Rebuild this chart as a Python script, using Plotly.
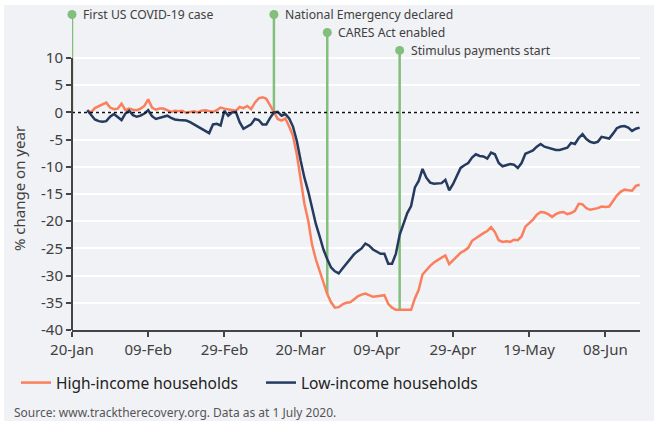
import plotly.graph_objects as go
import pandas as pd

# ---------------- data ----------------
start_date = "2020-01-24"
high_income = [
    0.4, 0.0, 0.8, 1.1, 1.5, 1.8, 0.9, 0.6, 0.7, 1.6,           # d4-13
    0.4, 0.7, 0.5, 0.4, 0.7, 1.2, 2.4, 0.9, 0.5, 0.7,           # d14-23
    0.7, 0.4, 0.1, 0.3, 0.2, 0.3, -0.1, 0.1, 0.2, 0.0,          # d24-33
    0.3, 0.4, 0.2, 0.1, 0.4, 0.9, 0.7, 0.6, 0.4, 0.3,           # d34-43
    1.0, 0.8, 1.2, 0.6, 1.8, 2.6, 2.8, 2.5, 1.3, 0.0,           # d44-53
    -1.2, -1.5, -1.1, -2.6, -4.3, -7.7, -12.5, -16.8, -19.9, -24.3,  # d54-63
    -27.0, -29.0, -31.2, -33.4, -34.9, -35.9, -35.8, -35.3, -35.0, -34.9,  # d64-73
    -34.4, -33.8, -33.5, -33.3, -33.6, -33.9, -33.8, -33.7, -33.6, -35.2,  # d74-83
    -35.9, -36.3, -36.3, -36.3, -36.3, -36.3, -34.2, -32.6, -29.8, -28.9,  # d84-93
    -28.2, -27.6, -27.1, -26.7, -26.3, -27.9, -27.2, -26.4, -25.8, -25.4,  # d94-103
    -24.9, -23.6, -23.1, -22.7, -22.2, -21.8, -21.1, -22.0, -23.5, -23.8,  # d104-113
    -23.7, -23.8, -23.4, -23.5, -22.8, -21.0, -20.4, -19.7, -18.8, -18.3,  # d114-123
    -18.4, -18.7, -19.2, -18.7, -18.4, -18.3, -18.7, -18.5, -18.1, -16.8,  # d124-133
    -16.9, -17.6, -17.9, -17.8, -17.6, -17.3, -17.4, -17.3, -16.3, -15.3,  # d134-143
    -14.6, -14.2, -14.3, -14.4, -13.5, -13.3,                              # d144-149
]
low_income = [
    0.4, -0.5, -1.3, -1.6, -1.7, -1.6, -0.8, -0.3, -0.8, -1.4,  # d4-13
    -0.2, 0.3, -0.5, -0.8, -0.6, -0.2, 0.4, -0.7, -1.2, -1.0,   # d14-23
    -0.7, -0.6, -1.0, -1.3, -1.4, -1.4, -1.5, -1.8, -2.2, -2.7, # d24-33
    -3.1, -3.5, -3.8, -2.2, -2.1, -2.4, 0.3, -0.6, 0.0, 0.1,    # d34-43
    -1.8, -3.0, -2.6, -2.2, -1.2, -1.4, -2.2, -2.2, -1.0, 0.0,  # d44-53
    0.1, -0.6, -0.3, -1.1, -2.6, -5.2, -8.8, -12.0, -14.5, -17.8,  # d54-63
    -20.5, -22.8, -25.2, -27.0, -28.5, -29.2, -29.6, -28.7, -27.8, -26.9,  # d64-73
    -26.1, -25.5, -25.0, -24.1, -24.5, -25.2, -25.6, -26.0, -26.0, -27.8,  # d74-83
    -27.8, -26.0, -22.5, -20.6, -18.5, -17.2, -13.8, -12.6, -10.4, -12.0,  # d84-93
    -12.9, -13.1, -13.0, -13.0, -12.4, -14.3, -13.2, -11.7, -10.2, -9.7,   # d94-103
    -9.3, -8.3, -7.7, -8.0, -8.1, -8.5, -7.4, -7.7, -9.3, -9.9,            # d104-113
    -9.7, -9.5, -9.6, -10.2, -9.3, -7.6, -7.3, -7.0, -6.3, -5.8,           # d114-123
    -6.3, -6.5, -6.7, -6.9, -6.9, -6.7, -6.5, -5.6, -5.8, -4.7,            # d124-133
    -4.0, -4.9, -5.4, -5.6, -5.4, -4.5, -4.7, -4.8, -3.9, -2.9,            # d134-143
    -2.6, -2.5, -2.8, -3.4, -3.0, -2.8,                                    # d144-149
]
dates = pd.date_range(start_date, periods=len(high_income), freq="D")

event_dates = ["2020-01-20", "2020-03-13", "2020-03-27", "2020-04-15"]
event_labels = ["First US COVID-19 case", "National Emergency declared",
                "CARES Act enabled", "Stimulus payments start"]
event_label_level = [18.0, 18.0, 14.7, 11.4]
event_base_level = [0.0, 0.0, -33.4, -36.3]

y_tick_vals = [10, 5, 0, -5, -10, -15, -20, -25, -30, -35, -40]
y_tick_text = ["10", "5", "0", "-5", "-10", "-15", "-20", "-25", "-30", "-35", "-40"]

series_names = ["High-income households", "Low-income households"]
source_text = "Source: www.tracktherecovery.org. Data as at 1 July 2020."
y_title = "% change on year"

# ---------------- styling ----------------
FONT = "Noto Sans"
BG = "#f0f2f5"
ORANGE = "#fb7f5c"
NAVY = "#243b5f"
GREEN = "#82be7c"
TXT = "#404040"
PW, PH = 568, 325   # plot area size in px (l=72, t=5)


def px_x(p):
    return (p - 72) / PW


def px_y(p):
    return (330 - p) / PH


fig = go.Figure()

# event lines
for d, top, base in zip(event_dates, event_label_level, event_base_level):
    fig.add_trace(go.Scatter(x=[d, d], y=[base, top], mode="lines",
                             line=dict(color=GREEN, width=2.5),
                             showlegend=False, hoverinfo="skip", cliponaxis=False))

fig.add_trace(go.Scatter(x=dates, y=high_income, mode="lines", name=series_names[0],
                         line=dict(color=ORANGE, width=2.5)))
fig.add_trace(go.Scatter(x=dates, y=low_income, mode="lines", name=series_names[1],
                         line=dict(color=NAVY, width=2.5)))

# event markers
fig.add_trace(go.Scatter(x=event_dates, y=event_label_level, mode="markers",
                         marker=dict(color=GREEN, size=9),
                         showlegend=False, hoverinfo="skip", cliponaxis=False))

for d, lab, lvl in zip(event_dates, event_labels, event_label_level):
    fig.add_annotation(x=d, y=lvl, text=lab, showarrow=False, xanchor="left",
                       yanchor="middle", xshift=9,
                       font=dict(family=FONT, size=12.2, color=TXT))

# zero line (dotted)
fig.add_shape(type="line", xref="paper", x0=0, x1=1, yref="y", y0=0, y1=0,
              line=dict(color="#111111", width=1.6, dash="dot"), layer="above")

# white outer strips (top and left)
fig.add_shape(type="rect", xref="paper", yref="paper", x0=-0.2, x1=px_x(4),
              y0=-0.5, y1=1.2, fillcolor="white", line=dict(width=0), layer="above")
fig.add_shape(type="rect", xref="paper", yref="paper", x0=-0.2, x1=1.2,
              y0=1.0, y1=1.2, fillcolor="white", line=dict(width=0), layer="above")

# y-axis title
fig.add_annotation(xref="paper", yref="paper", x=px_x(19), y=px_y(189),
                   text=y_title, textangle=-90, showarrow=False,
                   xanchor="center", yanchor="middle",
                   font=dict(family=FONT, size=15, color=TXT))

# source
fig.add_annotation(xref="paper", yref="paper", x=px_x(12), y=px_y(412),
                   text=source_text, showarrow=False, xanchor="left", yanchor="middle",
                   font=dict(family=FONT, size=12, color="#555555"))

fig.update_layout(
    width=654, height=421,
    margin=dict(l=72, r=14, t=5, b=91, autoexpand=False),
    paper_bgcolor=BG, plot_bgcolor=BG,
    font=dict(family=FONT, size=13, color=TXT),
    showlegend=True,
    legend=dict(orientation="h", x=px_x(16), y=px_y(383),
                xanchor="left", yanchor="middle", bgcolor="rgba(0,0,0,0)",
                font=dict(family=FONT, size=15.5, color="#222222"),
                entrywidth=200, entrywidthmode="pixels"),
    xaxis=dict(type="date", range=["2020-01-20", "2020-06-17 02:00"],
               tick0="2020-01-20", dtick=20 * 86400000, tickformat="%d-%b",
               showgrid=False, zeroline=False,
               showline=True, linecolor="#444444", linewidth=2,
               ticks="outside", ticklen=5, tickwidth=1.5, tickcolor="#444444",
               tickfont=dict(family=FONT, size=15, color=TXT)),
    yaxis=dict(range=[-40, 19.75], tickvals=y_tick_vals, ticktext=y_tick_text,
               showgrid=True, gridcolor="white", gridwidth=1.5, zeroline=False,
               showline=False,
               ticks="outside", ticklen=5, tickwidth=1.5, tickcolor="#444444",
               tickfont=dict(family=FONT, size=15, color=TXT)),
)

# left axis line only from -40 to 10
fig.add_shape(type="line", xref="paper", x0=0, x1=0, yref="y", y0=-40, y1=10,
              line=dict(color="#444444", width=2), layer="above")

fig.write_html("out.html",
               config={"displayModeBar": False},
               post_script="document.body.style.margin='0';document.body.style.overflow='hidden';")
